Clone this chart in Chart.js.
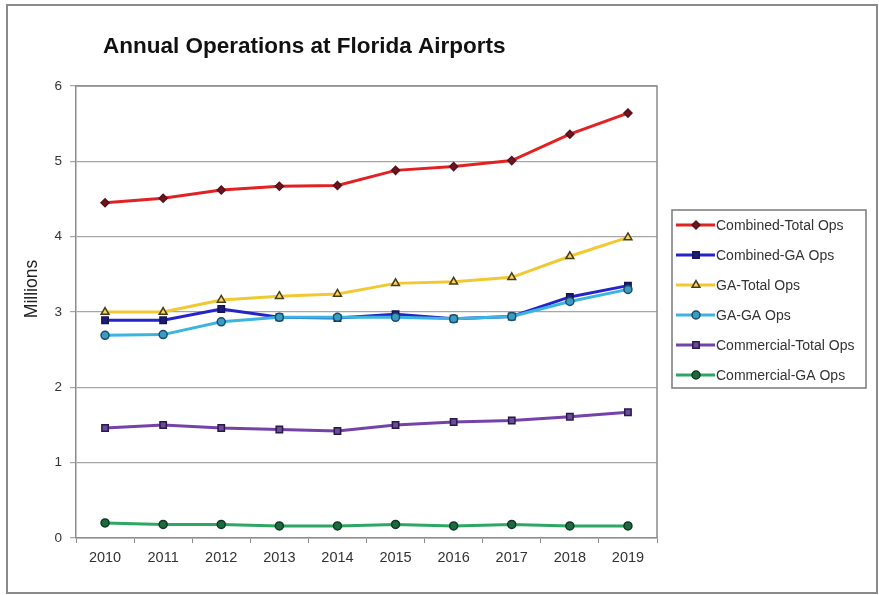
<!DOCTYPE html>
<html>

<head>
    <title>Annual Operations at Florida Airports</title>
    <script src="https://cdn.jsdelivr.net/npm/chart.js"></script>
    <style>
        body {
            margin: 0;
            background-color: #fff;
        }

        #wrap {
            position: relative;
            width: 879px;
            height: 595px;
        }
    </style>
</head>

<body>
    <div id="wrap">
        <canvas id="opsChart" width="879" height="595"></canvas>
    </div>

    <script>
        // Years on the x axis
        const years = ['2010', '2011', '2012', '2013', '2014', '2015', '2016', '2017', '2018', '2019'];

        // Operations in millions, one list per series
        const combinedTotal = [4.45, 4.51, 4.62, 4.67, 4.68, 4.88, 4.93, 5.01, 5.36, 5.64];
        const combinedGA = [2.89, 2.89, 3.04, 2.93, 2.92, 2.97, 2.91, 2.94, 3.20, 3.35];
        const gaTotal = [3.00, 3.00, 3.16, 3.21, 3.24, 3.38, 3.40, 3.46, 3.74, 3.99];
        const gaGA = [2.69, 2.70, 2.87, 2.93, 2.93, 2.93, 2.91, 2.94, 3.14, 3.30];
        const commercialTotal = [1.46, 1.50, 1.46, 1.44, 1.42, 1.50, 1.54, 1.56, 1.61, 1.67];
        const commercialGA = [0.20, 0.18, 0.18, 0.16, 0.16, 0.18, 0.16, 0.18, 0.16, 0.16];

        const seriesNames = ['Combined-Total Ops', 'Combined-GA Ops', 'GA-Total Ops', 'GA-GA Ops', 'Commercial-Total Ops', 'Commercial-GA Ops'];
        const yTicks = [0, 1, 2, 3, 4, 5, 6];

        const FONT = '"Liberation Sans", Arial, sans-serif';

        function series(i, data, line, mark, edge, style, radius) {
            return {
                label: seriesNames[i],
                data: data,
                borderColor: line,
                borderWidth: 3,
                pointStyle: style,
                pointRadius: radius,
                pointBackgroundColor: mark,
                pointBorderColor: edge,
                pointBorderWidth: 1.5,
                fill: false,
                tension: 0,
                order: 10 - i // later series sit on top
            };
        }

        // Frame, plot border, titles and the boxed legend on the right
        const decorations = {
            id: 'decorations',
            beforeDraw(chart) {
                const ctx = chart.ctx;
                ctx.save();
                ctx.fillStyle = '#fff';
                ctx.fillRect(0, 0, chart.width, chart.height);
                ctx.strokeStyle = '#8a8a8a';
                ctx.lineWidth = 2;
                ctx.strokeRect(7, 5, 870, 588);
                ctx.restore();
            },
            afterDatasetsDraw(chart) {
                const ctx = chart.ctx;
                const a = chart.chartArea;
                ctx.save();
                ctx.strokeStyle = '#8c8c8c';
                ctx.lineWidth = 1.5;
                ctx.beginPath();
                ctx.moveTo(a.left, a.top);
                ctx.lineTo(a.right, a.top);
                ctx.lineTo(a.right, a.bottom);
                ctx.stroke();

                // chart title
                ctx.fillStyle = '#111';
                ctx.font = 'bold 22.5px ' + FONT;
                ctx.textBaseline = 'alphabetic';
                ctx.textAlign = 'left';
                ctx.fillText('Annual Operations at Florida Airports', 103, 53);

                // y axis title
                ctx.save();
                ctx.translate(32, 289);
                ctx.rotate(-Math.PI / 2);
                ctx.font = '17.5px ' + FONT;
                ctx.fillStyle = '#222';
                ctx.textAlign = 'center';
                ctx.textBaseline = 'middle';
                ctx.fillText('Millions', 0, 0);
                ctx.restore();

                // legend
                const lx = 672, ly = 210, lw = 194, lh = 178;
                ctx.strokeStyle = '#7a7a7a';
                ctx.lineWidth = 1.5;
                ctx.strokeRect(lx, ly, lw, lh);
                ctx.font = '14px ' + FONT;
                ctx.textBaseline = 'middle';
                chart.data.datasets.forEach((ds, i) => {
                    const y = ly + 15 + i * 30;
                    ctx.strokeStyle = ds.borderColor;
                    ctx.lineWidth = 3;
                    ctx.beginPath();
                    ctx.moveTo(lx + 4, y);
                    ctx.lineTo(lx + 43, y);
                    ctx.stroke();
                    ctx.fillStyle = ds.pointBackgroundColor;
                    ctx.strokeStyle = ds.pointBorderColor;
                    ctx.lineWidth = ds.pointBorderWidth;
                    Chart.helpers.drawPoint(ctx, {
                        pointStyle: ds.pointStyle,
                        radius: ds.pointRadius,
                        borderWidth: ds.pointBorderWidth,
                        rotation: 0
                    }, lx + 24, y);
                    ctx.fillStyle = '#333';
                    ctx.fillText(ds.label, lx + 44, y + 1);
                });
                ctx.restore();
            }
        };

        const ctxOps = document.getElementById('opsChart').getContext('2d');
        const opsChart = new Chart(ctxOps, {
            type: 'line',
            data: {
                labels: years,
                datasets: [
                    series(0, combinedTotal, '#e02222', '#6e1420', '#5a1018', 'rectRot', 4),
                    series(1, combinedGA, '#2424c8', '#1c1c78', '#141450', 'rect', 4.5),
                    series(2, gaTotal, '#f2c832', '#f4d860', '#4a3c10', 'triangle', 4.5),
                    series(3, gaGA, '#3cb4e0', '#3a9cc4', '#1a4e66', 'circle', 4),
                    series(4, commercialTotal, '#7442a8', '#6a4c9c', '#2a1848', 'rect', 4.5),
                    series(5, commercialGA, '#2ea664', '#1e6a40', '#0e3a20', 'circle', 4)
                ]
            },
            options: {
                responsive: false,
                animation: false,
                layout: {
                    padding: { top: 86, right: 222, left: 0, bottom: 0 }
                },
                plugins: {
                    legend: { display: false },
                    tooltip: { enabled: false }
                },
                scales: {
                    x: {
                        offset: true,
                        grid: {
                            offset: true,
                            drawOnChartArea: false,
                            drawTicks: true,
                            tickLength: 5,
                            color: '#8c8c8c'
                        },
                        border: { color: '#8c8c8c', width: 1.5 },
                        ticks: {
                            color: '#333',
                            padding: 6,
                            font: { family: FONT, size: 14.5 }
                        },
                        afterFit(scale) { scale.height = 57; }
                    },
                    y: {
                        min: 0,
                        max: 6,
                        afterBuildTicks(scale) {
                            scale.ticks = yTicks.map(v => ({ value: v }));
                        },
                        grid: {
                            color: '#a6a6a6',
                            lineWidth: 1.2,
                            tickLength: 6
                        },
                        border: { color: '#8c8c8c', width: 1.5 },
                        ticks: {
                            color: '#333',
                            padding: 8,
                            font: { family: FONT, size: 13.5 }
                        },
                        afterFit(scale) { scale.width = 76; }
                    }
                }
            },
            plugins: [decorations]
        });
    </script>
</body>

</html>
